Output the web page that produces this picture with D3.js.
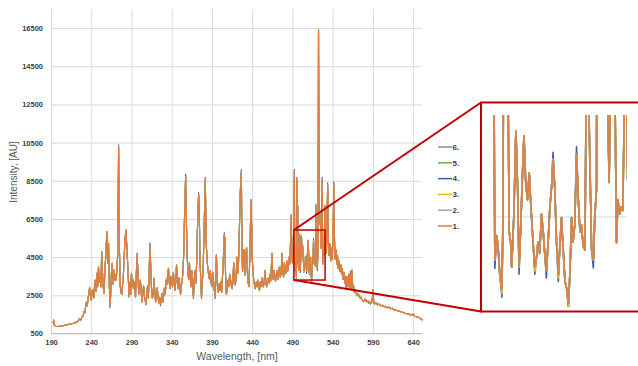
<!DOCTYPE html>
<html>
<head>
<meta charset="utf-8">
<script src="https://cdn.jsdelivr.net/npm/d3@7"></script>
<style>
  body { margin: 0; background: #fff; }
  svg { display: block; }
  text { font-family: "Liberation Sans", Arial, sans-serif; }
</style>
</head>
<body>
<div class="container"></div>
<script>
// spectrum: [wavelength nm, intensity AU]
const spectrum = [
  [192.8,1050],[193.3,1200],[194,950],[196,880],[198,870],[200,880],[202,890],[204,900],[206,920],[208,940],
  [210,950],[212,980],[214,990],[216,1010],[218,1040],[220,1070],[222,1100],[224,1150],[225.5,1280],[227,1200],
  [228.5,1350],[230,1450],[231,1650],[232,1580],[233,1900],[234,2150],[235,1950],[236,2300],[237,2600],[238,2900],
  [239,2500],[240,2250],[241,2700],[242,2800],[243,2350],[244,2900],[245,3300],[246,2700],[247,3650],[248,2950],
  [249,4000],[250,3200],[251,3500],[252,2950],[253,4780],[254,3700],[255,2900],[256,2600],[257,3900],[258,4500],
  [259.4,5830],[260.5,4200],[261.5,5220],[262.3,3400],[263.2,1950],[264,2400],[265,3600],[266,4180],[267,3100],[268,3830],
  [269,3300],[270,3600],[271,3300],[272,4000],[273,4700],[274,10280],[275,5000],[276,3000],[277,2650],[278,2550],
  [279,3100],[280,3600],[281,4600],[282,5400],[283,5920],[284,5250],[285,4400],[286,3400],[287,2430],[288,3200],
  [289,2550],[290,3660],[291,2950],[292,3300],[293,2850],[294,3200],[295,2400],[296,3600],[297,4610],[298,3700],
  [299,2550],[300,2900],[301,3300],[302,2750],[303,2150],[304,2600],[305,3000],[306,2450],[307,2250],[308,2080],
  [309,2500],[310,3000],[311,2350],[312,3800],[313,5130],[314,3900],[315,2750],[316,2350],[317,2600],[318,3390],
  [319,2650],[320,2150],[321,2500],[322,2900],[323,2450],[324,2100],[325,2400],[326,2050],[327,2300],[328,2600],
  [329,2150],[330,2500],[331,2900],[332,2550],[333,3300],[334,3050],[335,3600],[336,3910],[337,3150],[338,2850],
  [339,3500],[340,3250],[341,2950],[342,3700],[343,3250],[344,2750],[345,3200],[346,4090],[347,3250],[348,2850],
  [349,3400],[350,3050],[351,2550],[352,3000],[353,3300],[354,3700],[355,4800],[356,6800],[357.3,8710],[358,6900],
  [359,4900],[360,3750],[361,3350],[362,4200],[363,3450],[364,2950],[365,3800],[366,3150],[367,2430],[368,3300],
  [369,3800],[370,3150],[371,4200],[372,6000],[373.4,7750],[374.3,6900],[375,4500],[376,3450],[377,2430],[378,3200],
  [379,3800],[380,5500],[381.7,8540],[382.5,6400],[383,5130],[384,4300],[385,3850],[386,3550],[387,3350],[388,3800],
  [389,3150],[390,2950],[391,3700],[392,3250],[393,2750],[394,2430],[395.5,4610],[396.5,3450],[397,2850],[398,2650],
  [399,3100],[400,2750],[401,3200],[402,2650],[403,3400],[404,4200],[405.3,5660],[406,5450],[407,3450],[408,2550],
  [409,2900],[410,3300],[411,2950],[412,3600],[413,3350],[414,3050],[415,2850],[416,3200],[417,4200],[418,3450],
  [419,3050],[420,3400],[421,4500],[422,3650],[423,4200],[424,5800],[425.2,7840],[426.5,8970],[427.3,5000],[428,3750],
  [429,4500],[430,4900],[431,3550],[432,4400],[433,5000],[434,3750],[435,3150],[436,2950],[437,4500],[438.5,7400],
  [439.5,5900],[440,4500],[441,3750],[442,3250],[443,3050],[444,2850],[445,3200],[446,2950],[447,3300],[448,3050],
  [449,2750],[450,3200],[451,2950],[452,3400],[453,3050],[454,2950],[455,3300],[456,3800],[457,3150],[458,2950],
  [459,3100],[460,3400],[461,3150],[462,3600],[463,3250],[464.6,4700],[465.5,3550],[466,3350],[467,3800],[468,3450],
  [469,3250],[470,3600],[471,3800],[472,3350],[473,3800],[474,4000],[475,3450],[476,3700],[477,4700],[478,3750],
  [479,3450],[480,4200],[481,3850],[482,3650],[483,4300],[484,3750],[485,4000],[486,4500],[487,4150],[487.4,4870],
  [488.3,6620],[489.3,4950],[490,4200],[491,4500],[491.8,5600],
  [492.4,8970],[492.9,3895],[493.4,4240],[493.8,4100],[494.3,3700],[494.9,3500],[495.2,4400],[495.5,8540],[496,6500],[496.5,7200],
  [497,4290],[497.4,4150],[497.7,3800],[498.3,4490],[498.9,5700],[499.4,4890],[499.8,3800],[500.3,4390],[500.8,5130],[501.2,5630],
  [501.7,4980],[502.2,4740],[502.7,5110],[503.2,4640],[503.8,4140],[504.3,3800],[504.8,3940],[505.2,4150],[505.7,3990],[506.2,4540],
  [506.7,4290],[507.2,3940],[507.6,3750],[508.1,4150],[508.6,4640],[509.1,4930],[509.5,5310],[510,4890],[510.5,4140],[511,3700],
  [511.4,4040],[511.9,4490],[512.4,4040],[512.9,3600],[513.4,3500],[513.9,3300],[514.3,3700],[514.8,4490],[515.2,4150],[515.7,4390],
  [516.2,5380],[516.7,4740],[517.2,4290],[517.6,4390],[518.1,4090],[518.6,4040],[519.1,7140],[519.6,6300],[520.5,4040],[521,3895],
  [521.4,4490],[521.9,4890],[522.4,16400],[523.2,7500],[524.2,6300],[525.1,6100],[525.5,4980],[525.9,6500],[526.9,8540],[527.2,6100],
  [527.6,4140],[528,4740],[528.5,4540],[529,4640],[529.4,4590],[530.2,7200],
  [530.8,5000],[531.5,5700],[532.3,4700],[533.8,8280],[534.6,5400],[535.5,4600],[536.5,5200],[537.5,4300],[538.5,5000],[539.5,4400],
  [540.5,5800],[541.5,8300],[542.3,5400],[543,4400],[544,4900],[545,4150],[546,4600],[547,3900],[548,4300],[549,3750],
  [550,4100],[551,3600],[552,3900],[553,3350],[554,3700],[555,3150],[556,3500],[557,2900],[558,3470],[559,2950],
  [560,3600],[561,2850],[562,3650],[563,2800],[564,3740],[565,2850],[566,3000],[567,2650],[568,2800],[569,2600],
  [570,2520],[571,2600],[572,2450],[573,2500],[574,2350],[575,2400],[576,2300],[577,2250],[578.5,2170],[580,2300],
  [581,2200],[582,2250],[583,2150],[584,2200],[585,2100],[586,2150],[587,2050],[588,2100],[589,2200],[590.2,2780],
  [591,2150],[592,2050],[594,2100],[596,2000],[598,2050],[600,1950],[602,1980],[604,1900],[606,1920],[608,1850],
  [610,1880],[612,1800],[614,1820],[616,1750],[618,1730],[620,1700],[622,1680],[624,1650],[626,1620],[628,1600],
  [630,1560],[632,1540],[634,1550],[636,1480],[638,1450],[640,1520],[642,1400],[644,1380],[646,1350],[648,1320],
  [650,1250],[652,1200]
];

// run 4 sits a little above run 1 at the strong peaks and a little below in some dips
const run4Departures = [
  [274,10380],[263.2,1850],[297,4720],[308,1990],[313,5250],[326,1960],[357.3,8850],[367,2330],[373.4,7880],
  [377,2330],[381.7,8680],[394,2330],[405.3,5780],[425.2,7980],[426.5,9080],[438.5,7530],[488.3,6750],
  [492.4,9100],[492.9,3780],[494.9,3380],[495.5,8680],[499.8,3700],[504.3,3700],[507.6,3650],[509.5,5400],
  [511,3600],[513.9,3200],[516.2,5480],[519.1,7280],[521,3790],[526.9,8680],[533.8,8400],[541.5,8430],
  [562,3760],[564,3850]
];
// run 3 dips a touch lower at a few of the zoomed valleys
const run3Departures = [[494.9,3430],[513.9,3250],[504.3,3740],[511,3650]];

const seriesNames = ['1.', '2.', '3.', '4.', '5.', '6.'];
const seriesColors = ['#e27c3a', '#a5a5a5', '#f2b61d', '#3b5fb0', '#70ad47', '#7f8ea8'];

const xTicks = [190, 240, 290, 340, 390, 440, 490, 540, 590, 640];
const yTicks = [500, 2500, 4500, 6500, 8500, 10500, 12500, 14500, 16500];
const zoomX = [491.8, 530.6];
const zoomY = [3300, 5920];
const insetGrid = [4500];

function withDepartures(base, departures) {
  const m = new Map(departures);
  return base.map(d => [d[0], m.has(d[0]) ? m.get(d[0]) : d[1]]);
}
const seriesData = [
  spectrum,
  spectrum,
  withDepartures(spectrum, run3Departures),
  withDepartures(spectrum, run4Departures),
  spectrum,
  spectrum
];

const W = 638, H = 366;
const svg = d3.select('.container').append('svg')
  .attr('width', W)
  .attr('height', H);

const x = d3.scaleLinear().domain([190, 651]).range([51, 422]);
const y = d3.scaleLinear().domain([500, 17500]).range([333.5, 9]);

// gridlines + tick labels
const gx = svg.append('g')
  .attr('transform', `translate(0,${y(500)})`)
  .call(d3.axisBottom(x).tickValues(xTicks).tickFormat(d3.format('d'))
    .tickSize(-(y(500) - y(17500))).tickPadding(6.5));
const gy = svg.append('g')
  .attr('transform', `translate(${x(190)},0)`)
  .call(d3.axisLeft(y).tickValues(yTicks).tickFormat(d3.format('d'))
    .tickSize(-(x(651) - x(190))).tickPadding(8));

[gx, gy].forEach(g => {
  g.select('.domain').remove();
  g.selectAll('.tick line').attr('stroke', '#d9d9d9').attr('stroke-width', 1);
  g.selectAll('.tick text')
    .attr('fill', '#404040')
    .attr('font-size', 7.5)
    .attr('font-weight', 'bold');
});
svg.append('line')
  .attr('x1', x(190)).attr('x2', x(651))
  .attr('y1', y(500)).attr('y2', y(500))
  .attr('stroke', '#bfbfbf');

// axis titles
svg.append('text')
  .attr('x', 237).attr('y', 360)
  .attr('text-anchor', 'middle')
  .attr('font-size', 10.5)
  .attr('fill', '#595959')
  .text('Wavelength, [nm]');
svg.append('text')
  .attr('transform', 'translate(17,172) rotate(-90)')
  .attr('text-anchor', 'middle')
  .attr('font-size', 10)
  .attr('fill', '#595959')
  .text('Intensity, [AU]');

// main series, 6 at the bottom, 1 on top
const line = d3.line().x(d => x(d[0])).y(d => y(d[1]));
d3.range(5, -1, -1).forEach(i => {
  svg.append('path')
    .attr('d', line(seriesData[i]))
    .attr('fill', 'none')
    .attr('stroke', seriesColors[i])
    .attr('stroke-width', 1.1)
    .attr('stroke-linejoin', 'round');
});

// legend
const legend = svg.append('g').attr('transform', 'translate(438,147)');
d3.range(5, -1, -1).forEach((i, k) => {
  const row = legend.append('g').attr('transform', `translate(0,${k * 15.8})`);
  row.append('line').attr('x1', 0).attr('x2', 14).attr('stroke', seriesColors[i]).attr('stroke-width', 1.5);
  row.append('text').attr('x', 14.5).attr('dy', '0.35em')
    .attr('font-size', 8).attr('font-weight', 'bold').attr('fill', '#404040')
    .text(seriesNames[i]);
});

// zoom window on the main chart
const red = '#c00000';
svg.append('rect')
  .attr('x', x(zoomX[0])).attr('y', y(zoomY[1]))
  .attr('width', x(zoomX[1]) - x(zoomX[0]))
  .attr('height', y(zoomY[0]) - y(zoomY[1]))
  .attr('fill', 'none').attr('stroke', red).attr('stroke-width', 1.5);

const box = {x0: 481, y0: 102.5, y1: 311.5};
svg.append('line')
  .attr('x1', x(zoomX[0])).attr('y1', y(zoomY[1]))
  .attr('x2', box.x0).attr('y2', box.y0)
  .attr('stroke', red).attr('stroke-width', 2);
svg.append('line')
  .attr('x1', x(zoomX[0])).attr('y1', y(zoomY[0]))
  .attr('x2', box.x0).attr('y2', box.y1)
  .attr('stroke', red).attr('stroke-width', 2);

// inset: same data, zoomed
svg.append('rect')
  .attr('x', box.x0).attr('y', box.y0)
  .attr('width', 200).attr('height', box.y1 - box.y0)
  .attr('fill', '#fff').attr('stroke', red).attr('stroke-width', 2);

const ix = d3.scaleLinear().domain(zoomX).range([491, 627]);
const iy = d3.scaleLinear().domain(zoomY).range([303, 115]);

svg.append('clipPath').attr('id', 'inset-clip')
  .append('rect').attr('x', 493).attr('y', 115).attr('width', 134).attr('height', 192);

const inset = svg.append('g').attr('clip-path', 'url(#inset-clip)');
insetGrid.forEach(v => {
  inset.append('line')
    .attr('x1', 493).attr('x2', 627)
    .attr('y1', iy(v)).attr('y2', iy(v))
    .attr('stroke', '#d9d9d9');
});
const iline = d3.line().x(d => ix(d[0])).y(d => iy(d[1]));
d3.range(5, -1, -1).forEach(i => {
  inset.append('path')
    .attr('d', iline(seriesData[i]))
    .attr('fill', 'none')
    .attr('stroke', seriesColors[i])
    .attr('stroke-width', 1.6)
    .attr('stroke-opacity', i === 0 ? 0.85 : 1)
    .attr('stroke-linejoin', 'round');
});
</script>
</body>
</html>
